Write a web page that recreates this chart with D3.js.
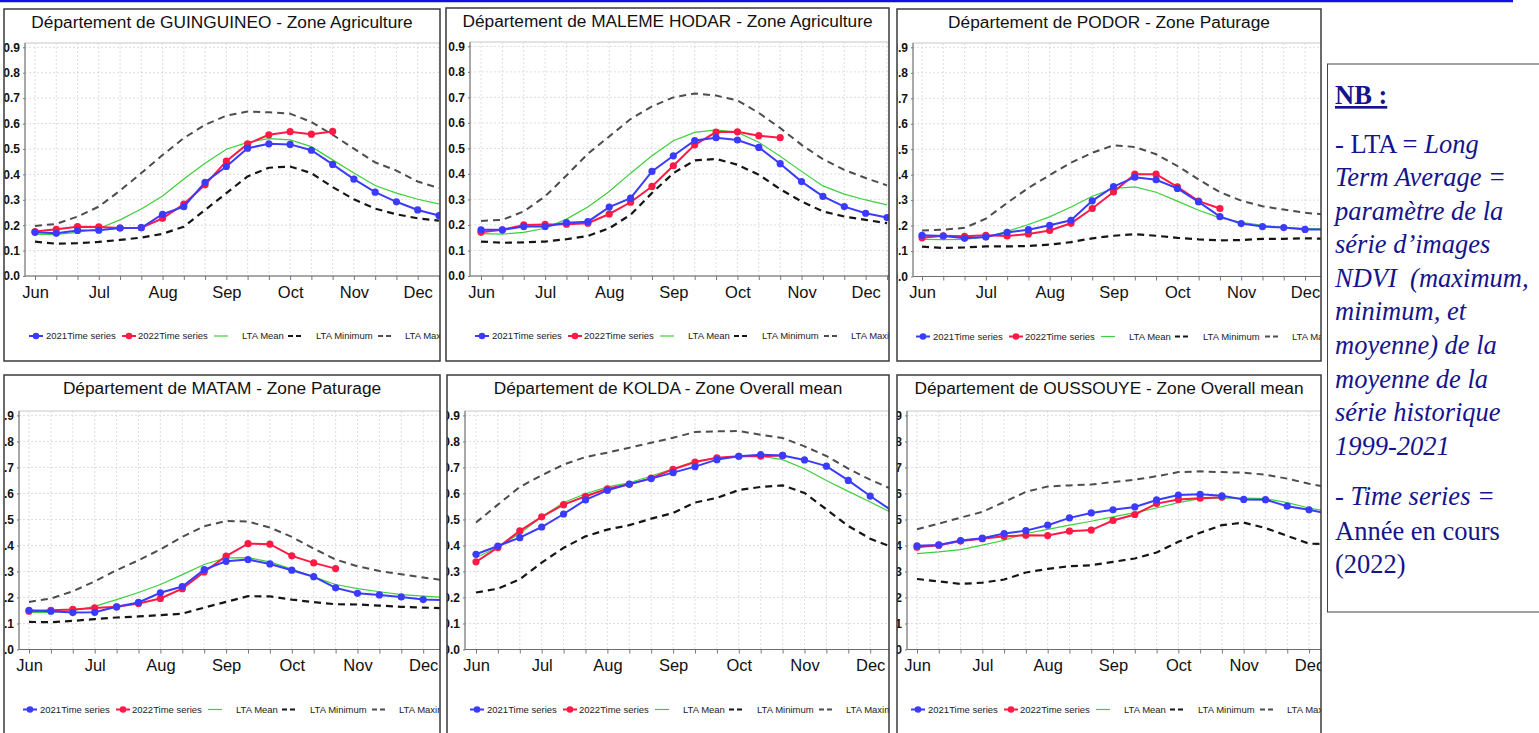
<!DOCTYPE html>
<html>
<head>
<meta charset="utf-8">
<script src="https://cdn.jsdelivr.net/npm/d3@7"></script>
<style>
  html, body { margin: 0; padding: 0; background: #fff; }
  svg { display: block; }
  .ttl { font-family: "Liberation Sans", Arial, sans-serif; font-size: 17.3px; fill: #111; }
  .ytick text { font-family: "Liberation Sans", Arial, sans-serif; font-size: 12px; font-weight: bold; fill: #111; }
  .xtick text { font-family: "Liberation Sans", Arial, sans-serif; font-size: 16.5px; fill: #111; }
  .leg { font-family: "Liberation Sans", Arial, sans-serif; font-size: 9.5px; fill: #222; }
  .nb { font-family: "Liberation Serif", "Times New Roman", serif; font-size: 26.5px; fill: #14148c; }
</style>
</head>
<body>
<svg id="chart" width="1539" height="733"></svg>
<script>
// Dekad axis: three 10-day periods per month, June to December
const months = ["Jun", "Jul", "Aug", "Sep", "Oct", "Nov", "Dec"];
const yTicks = [0, 0.1, 0.2, 0.3, 0.4, 0.5, 0.6, 0.7, 0.8, 0.9];
const legendLabels = ["2021Time series", "2022Time series", "LTA Mean", "LTA Minimum", "LTA Maximum"];

// NDVI — Guinguineo, zone agriculture
const guinguineo2021 = [0.172, 0.168, 0.179, 0.180, 0.189, 0.190, 0.243, 0.273, 0.369, 0.431, 0.503, 0.520, 0.518, 0.495, 0.439, 0.381, 0.330, 0.292, 0.260, 0.238];
const guinguineo2022 = [0.175, 0.184, 0.194, 0.193, 0.189, 0.190, 0.227, 0.283, 0.359, 0.452, 0.520, 0.556, 0.568, 0.558, 0.569];
const guinguineoMean = [0.164, 0.164, 0.172, 0.187, 0.221, 0.264, 0.315, 0.382, 0.444, 0.499, 0.526, 0.541, 0.536, 0.509, 0.457, 0.405, 0.356, 0.326, 0.302, 0.284];
const guinguineoMin  = [0.135, 0.127, 0.129, 0.134, 0.142, 0.151, 0.166, 0.194, 0.260, 0.326, 0.392, 0.426, 0.431, 0.405, 0.350, 0.302, 0.265, 0.243, 0.227, 0.218];
const guinguineoMax  = [0.197, 0.205, 0.234, 0.273, 0.336, 0.405, 0.476, 0.543, 0.595, 0.631, 0.647, 0.644, 0.639, 0.606, 0.556, 0.501, 0.447, 0.415, 0.372, 0.346];

// NDVI — Malem Hodar, zone agriculture
const malemHodar2021 = [0.181, 0.181, 0.194, 0.194, 0.209, 0.213, 0.270, 0.305, 0.410, 0.471, 0.531, 0.542, 0.533, 0.504, 0.440, 0.370, 0.312, 0.272, 0.246, 0.229];
const malemHodar2022 = [0.171, 0.181, 0.200, 0.202, 0.203, 0.207, 0.243, 0.289, 0.351, 0.432, 0.514, 0.564, 0.565, 0.550, 0.542];
const malemHodarMean = [0.166, 0.164, 0.171, 0.187, 0.223, 0.270, 0.331, 0.403, 0.471, 0.530, 0.563, 0.573, 0.563, 0.524, 0.469, 0.410, 0.353, 0.321, 0.298, 0.279];
const malemHodarMin  = [0.135, 0.130, 0.132, 0.135, 0.144, 0.157, 0.187, 0.240, 0.325, 0.403, 0.453, 0.459, 0.436, 0.397, 0.340, 0.292, 0.253, 0.233, 0.220, 0.207];
const malemHodarMax  = [0.216, 0.220, 0.253, 0.312, 0.394, 0.479, 0.547, 0.615, 0.665, 0.700, 0.715, 0.707, 0.688, 0.639, 0.580, 0.514, 0.458, 0.416, 0.384, 0.355];

// NDVI — Podor, zone pâturage
const podor2021 = [0.162, 0.159, 0.150, 0.155, 0.173, 0.184, 0.201, 0.221, 0.297, 0.353, 0.390, 0.380, 0.346, 0.293, 0.235, 0.208, 0.196, 0.192, 0.185, 0.184];
const podor2022 = [0.152, 0.160, 0.158, 0.162, 0.159, 0.167, 0.181, 0.209, 0.267, 0.332, 0.402, 0.402, 0.352, 0.296, 0.267];
const podorMean = [0.146, 0.145, 0.146, 0.155, 0.177, 0.204, 0.234, 0.273, 0.315, 0.346, 0.352, 0.331, 0.296, 0.260, 0.230, 0.213, 0.201, 0.193, 0.189, 0.187];
const podorMin  = [0.117, 0.112, 0.114, 0.118, 0.118, 0.120, 0.125, 0.135, 0.150, 0.160, 0.166, 0.160, 0.152, 0.146, 0.142, 0.143, 0.148, 0.148, 0.150, 0.148];
const podorMax  = [0.181, 0.184, 0.191, 0.227, 0.289, 0.348, 0.398, 0.447, 0.486, 0.515, 0.509, 0.480, 0.434, 0.381, 0.331, 0.298, 0.276, 0.263, 0.250, 0.243];

// NDVI — Matam, zone pâturage
const matam2021 = [0.151, 0.147, 0.142, 0.143, 0.164, 0.181, 0.218, 0.242, 0.307, 0.339, 0.346, 0.329, 0.305, 0.280, 0.237, 0.216, 0.210, 0.202, 0.192, 0.190];
const matam2022 = [0.147, 0.151, 0.154, 0.160, 0.164, 0.177, 0.196, 0.234, 0.298, 0.359, 0.407, 0.405, 0.360, 0.333, 0.311];
const matamMean = [0.143, 0.143, 0.149, 0.166, 0.192, 0.219, 0.250, 0.288, 0.327, 0.352, 0.353, 0.337, 0.309, 0.279, 0.250, 0.234, 0.222, 0.211, 0.205, 0.200];
const matamMin  = [0.106, 0.105, 0.110, 0.117, 0.123, 0.127, 0.132, 0.138, 0.161, 0.183, 0.205, 0.204, 0.192, 0.182, 0.174, 0.173, 0.169, 0.164, 0.161, 0.159];
const matamMax  = [0.183, 0.196, 0.224, 0.262, 0.305, 0.343, 0.385, 0.433, 0.474, 0.494, 0.492, 0.469, 0.433, 0.388, 0.346, 0.320, 0.302, 0.289, 0.277, 0.266];

// NDVI — Kolda, overall mean
const kolda2021 = [0.366, 0.398, 0.430, 0.471, 0.521, 0.575, 0.612, 0.636, 0.657, 0.680, 0.703, 0.730, 0.743, 0.749, 0.746, 0.729, 0.705, 0.650, 0.590, 0.533];
const kolda2022 = [0.337, 0.392, 0.456, 0.510, 0.557, 0.589, 0.618, 0.635, 0.659, 0.693, 0.721, 0.737, 0.743, 0.743, 0.746];
const koldaMean = [0.353, 0.394, 0.446, 0.510, 0.565, 0.599, 0.625, 0.641, 0.667, 0.695, 0.723, 0.736, 0.743, 0.743, 0.730, 0.695, 0.650, 0.608, 0.567, 0.525];
const koldaMin  = [0.219, 0.234, 0.270, 0.334, 0.391, 0.435, 0.461, 0.478, 0.503, 0.525, 0.565, 0.583, 0.613, 0.625, 0.631, 0.602, 0.539, 0.475, 0.426, 0.394];
const koldaMax  = [0.488, 0.557, 0.625, 0.670, 0.711, 0.740, 0.757, 0.776, 0.795, 0.814, 0.836, 0.839, 0.840, 0.826, 0.813, 0.781, 0.744, 0.695, 0.653, 0.616];

// NDVI — Oussouye, overall mean
const oussouye2021 = [0.399, 0.402, 0.419, 0.428, 0.446, 0.457, 0.478, 0.506, 0.525, 0.537, 0.548, 0.575, 0.594, 0.597, 0.591, 0.577, 0.576, 0.551, 0.537, 0.520];
const oussouye2022 = [0.393, 0.401, 0.417, 0.426, 0.435, 0.439, 0.438, 0.455, 0.459, 0.496, 0.519, 0.561, 0.577, 0.582, 0.585];
const oussouyeMean = [0.369, 0.375, 0.384, 0.401, 0.420, 0.446, 0.462, 0.478, 0.493, 0.510, 0.526, 0.544, 0.565, 0.580, 0.582, 0.582, 0.580, 0.565, 0.544, 0.529];
const oussouyeMin  = [0.271, 0.262, 0.252, 0.257, 0.269, 0.296, 0.310, 0.320, 0.324, 0.337, 0.350, 0.373, 0.414, 0.449, 0.478, 0.488, 0.467, 0.437, 0.407, 0.405];
const oussouyeMax  = [0.462, 0.484, 0.507, 0.529, 0.567, 0.606, 0.627, 0.631, 0.634, 0.644, 0.653, 0.666, 0.682, 0.685, 0.682, 0.680, 0.672, 0.657, 0.637, 0.622];

const panels = [
  { title: "Département de GUINGUINEO - Zone Agriculture", s21: guinguineo2021, s22: guinguineo2022, mean: guinguineoMean, min: guinguineoMin, max: guinguineoMax,
    frame: [4, 9, 436, 352], axisX: 25, top: 43, bottom: 276, x0: 35, dx: 21.26 },
  { title: "Département de MALEME HODAR - Zone Agriculture", s21: malemHodar2021, s22: malemHodar2022, mean: malemHodarMean, min: malemHodarMin, max: malemHodarMax,
    frame: [446, 8, 443, 353], axisX: 470, top: 42, bottom: 276, x0: 481, dx: 21.37 },
  { title: "Département de PODOR - Zone Paturage", s21: podor2021, s22: podor2022, mean: podorMean, min: podorMin, max: podorMax,
    frame: [897, 9, 424, 352], axisX: 913, top: 43, bottom: 276.5, x0: 922, dx: 21.28 },
  { title: "Département de MATAM - Zone Paturage", s21: matam2021, s22: matam2022, mean: matamMean, min: matamMin, max: matamMax,
    frame: [4, 375, 436, 372], axisX: 19, top: 411, bottom: 649.5, x0: 29, dx: 21.9 },
  { title: "Département de KOLDA - Zone Overall mean", s21: kolda2021, s22: kolda2022, mean: koldaMean, min: koldaMin, max: koldaMax,
    frame: [447, 375, 442, 372], axisX: 465, top: 411, bottom: 649.5, x0: 476, dx: 21.9 },
  { title: "Département de OUSSOUYE - Zone Overall mean", s21: oussouye2021, s22: oussouye2022, mean: oussouyeMean, min: oussouyeMin, max: oussouyeMax,
    frame: [897, 375, 424, 372], axisX: 907, top: 411, bottom: 649.5, x0: 917, dx: 21.78 }
];

const C21 = "#3b3bff", C22 = "#ff1a45", CMEAN = "#3ccf3c", CMIN = "#151515", CMAX = "#4d4d4d";

const svg = d3.select("#chart");
const defs = svg.append("defs");

// rule along the top of the page
svg.append("line").attr("x1", 0).attr("x2", 1513).attr("y1", 1).attr("y2", 1)
  .attr("stroke", "#1010e6").attr("stroke-width", 2.5);

panels.forEach((p, k) => {
  const [fx, fy, fw, fh] = p.frame;
  const clipId = "clip" + k;
  defs.append("clipPath").attr("id", clipId)
    .append("rect").attr("x", fx).attr("y", fy).attr("width", fw).attr("height", fh);

  const g = svg.append("g").attr("clip-path", `url(#${clipId})`);
  g.append("rect").attr("x", fx).attr("y", fy).attr("width", fw).attr("height", fh).attr("fill", "#fff");

  const x = d3.scaleLinear().domain([0, 18]).range([p.x0, p.x0 + 18 * p.dx]);
  const y = d3.scaleLinear().domain([0, 0.917]).range([p.bottom, p.top]);
  const right = fx + fw + 20;

  // plot area
  g.append("rect").attr("x", p.axisX).attr("y", p.top).attr("width", right - p.axisX).attr("height", p.bottom - p.top)
    .attr("fill", "#fff").attr("stroke", "#c8c8c8").attr("stroke-width", 1);

  // grid
  const dek = d3.range(0, 21);
  g.append("g").selectAll("line").data(dek).join("line")
    .attr("x1", d => x(d)).attr("x2", d => x(d)).attr("y1", p.top).attr("y2", p.bottom)
    .attr("stroke", "#d6d6d6").attr("stroke-width", 0.8).attr("stroke-dasharray", "2,2");
  g.append("g").selectAll("line").data(yTicks.slice(1)).join("line")
    .attr("x1", p.axisX).attr("x2", right).attr("y1", d => y(d)).attr("y2", d => y(d))
    .attr("stroke", "#d6d6d6").attr("stroke-width", 0.8).attr("stroke-dasharray", "2,2");

  // axes
  const xa = g.append("g").attr("class", "xtick").attr("transform", `translate(0,${p.bottom})`)
    .call(d3.axisBottom(x).tickValues(dek).tickSize(4).tickPadding(6)
      .tickFormat(d => d % 3 === 0 && d / 3 < months.length ? months[d / 3] : ""));
  xa.select(".domain").remove();
  xa.selectAll(".tick line").attr("stroke", "#777");
  g.append("line").attr("x1", p.axisX).attr("x2", right).attr("y1", p.bottom).attr("y2", p.bottom)
    .attr("stroke", "#6e6e6e").attr("stroke-width", 1);

  const ya = g.append("g").attr("class", "ytick").attr("transform", `translate(${p.axisX},0)`)
    .call(d3.axisLeft(y).tickValues(yTicks).tickSize(2).tickPadding(3).tickFormat(d3.format(".1f")));
  ya.select(".domain").remove();
  ya.selectAll(".tick line").attr("stroke", "#777");
  g.append("line").attr("x1", p.axisX).attr("x2", p.axisX).attr("y1", p.top).attr("y2", p.bottom)
    .attr("stroke", "#6e6e6e").attr("stroke-width", 1);

  // series
  const line = d3.line().x((d, i) => x(i)).y(d => y(d));
  const plot = g.append("g");
  plot.append("path").datum(p.max).attr("d", line).attr("fill", "none")
    .attr("stroke", CMAX).attr("stroke-width", 2).attr("stroke-dasharray", "7,5");
  plot.append("path").datum(p.min).attr("d", line).attr("fill", "none")
    .attr("stroke", CMIN).attr("stroke-width", 2.2).attr("stroke-dasharray", "7,5");
  plot.append("path").datum(p.mean).attr("d", line).attr("fill", "none")
    .attr("stroke", CMEAN).attr("stroke-width", 1.2);
  [[p.s22, C22], [p.s21, C21]].forEach(([s, c]) => {
    plot.append("path").datum(s).attr("d", line).attr("fill", "none").attr("stroke", c).attr("stroke-width", 2);
    plot.append("g").selectAll("circle").data(s).join("circle")
      .attr("cx", (d, i) => x(i)).attr("cy", d => y(d)).attr("r", 3.6).attr("fill", c);
  });

  // legend
  const lg = g.append("g").attr("transform", `translate(${p.x0 - 6},${p.bottom + 60})`);
  const items = [
    { sx: 0, tx: 17, kind: "dot", c: C21 },
    { sx: 93, tx: 109, kind: "dot", c: C22 },
    { sx: 185, tx: 213, kind: "solid", c: CMEAN },
    { sx: 259, tx: 287, kind: "dash", c: CMIN },
    { sx: 349, tx: 376, kind: "dash", c: CMAX }
  ];
  items.forEach((it, j) => {
    if (it.kind === "dash") {
      lg.append("line").attr("x1", it.sx).attr("x2", it.sx + 14).attr("y1", 0).attr("y2", 0)
        .attr("stroke", it.c).attr("stroke-width", 2).attr("stroke-dasharray", "5,3");
    } else {
      lg.append("line").attr("x1", it.sx).attr("x2", it.sx + 14).attr("y1", 0).attr("y2", 0)
        .attr("stroke", it.c).attr("stroke-width", it.kind === "dot" ? 2 : 1.2);
      if (it.kind === "dot") lg.append("circle").attr("cx", it.sx + 7).attr("cy", 0).attr("r", 3.3).attr("fill", it.c);
    }
    lg.append("text").attr("class", "leg").attr("x", it.tx).attr("y", 3.4).text(legendLabels[j]);
  });

  // title
  g.append("text").attr("class", "ttl").attr("x", fx + fw / 2).attr("y", fy + 19)
    .attr("text-anchor", "middle").text(p.title);

  // frame
  svg.append("rect").attr("x", fx).attr("y", fy).attr("width", fw).attr("height", fh)
    .attr("fill", "none").attr("stroke", "#3a3a3a").attr("stroke-width", 1.5);
});

// explanatory note
svg.append("rect").attr("x", 1327.5).attr("y", 64).attr("width", 220).attr("height", 548)
  .attr("fill", "#fff").attr("stroke", "#444").attr("stroke-width", 1);

const nb = svg.append("g").attr("class", "nb");
const noteLines = [
  { y: 104, parts: [["NB :", "bold"]] },
  { y: 153, parts: [["- LTA = ", ""], ["Long", "italic"]] },
  { y: 186, parts: [["Term Average =", "italic"]] },
  { y: 220, parts: [["paramètre de la", "italic"]] },
  { y: 253, parts: [["série d’images", "italic"]] },
  { y: 287, parts: [["NDVI  (maximum,", "italic"]] },
  { y: 320, parts: [["minimum, et", "italic"]] },
  { y: 354, parts: [["moyenne) de la", "italic"]] },
  { y: 388, parts: [["moyenne de la", "italic"]] },
  { y: 421, parts: [["série historique", "italic"]] },
  { y: 455, parts: [["1999-2021", "italic"]] },
  { y: 505, parts: [["- ", "italic"], ["Time series =", "italic"]] },
  { y: 540, parts: [["Année en cours", ""]] },
  { y: 573, parts: [["(2022)", ""]] }
];
noteLines.forEach(l => {
  const t = nb.append("text").attr("x", 1335).attr("y", l.y).attr("xml:space", "preserve");
  l.parts.forEach(([s, st]) => {
    const ts = t.append("tspan").text(s);
    if (st === "italic") ts.attr("font-style", "italic");
    if (st === "bold") ts.attr("font-weight", "bold").attr("text-decoration", "underline");
  });
});
</script>
</body>
</html>
